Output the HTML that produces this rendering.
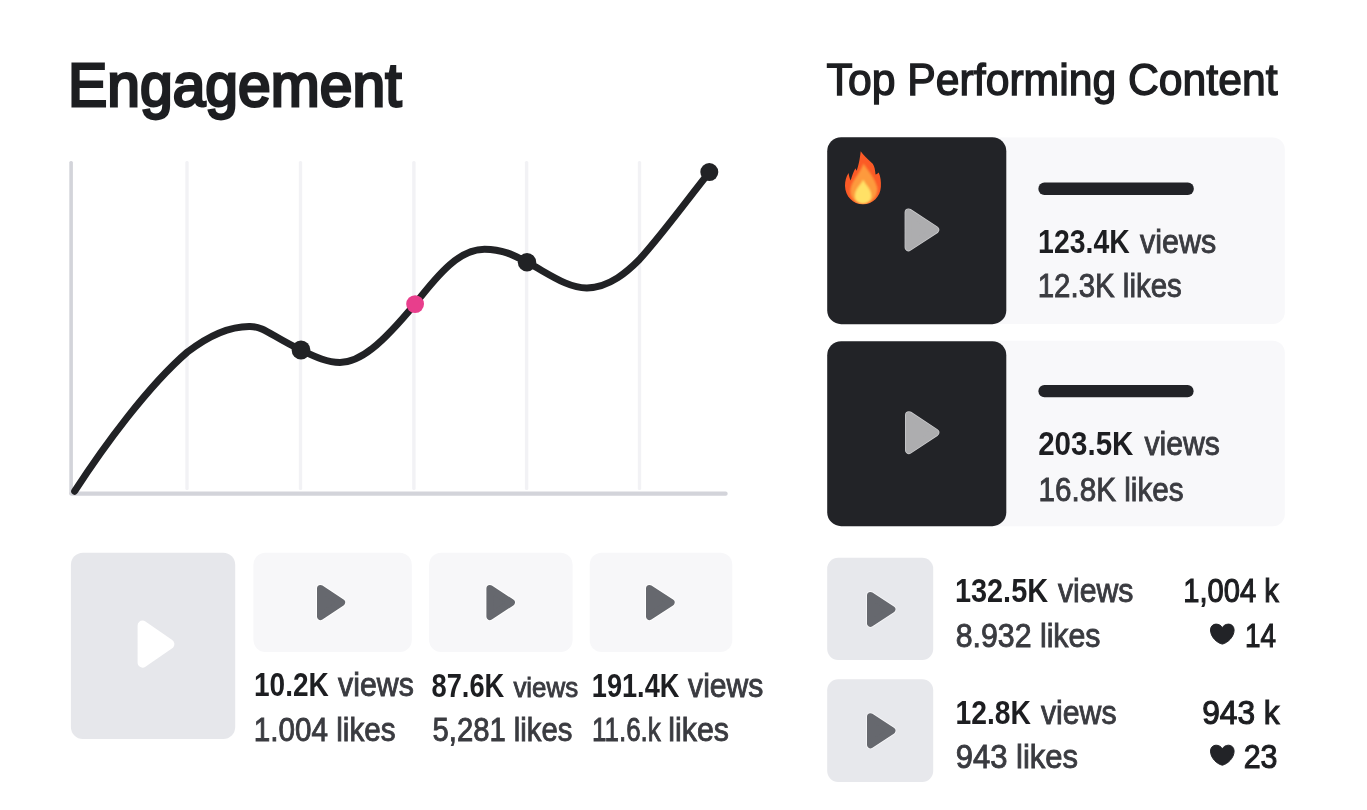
<!DOCTYPE html>
<html lang="en">
<head>
<meta charset="utf-8">
<title>Engagement</title>
<style>
html,body{margin:0;padding:0;background:#fff;}
body{width:1367px;height:810px;overflow:hidden;position:relative;font-family:"Liberation Sans",sans-serif;}
svg{position:absolute;left:0;top:0;display:block}
text{font-family:"Liberation Sans",sans-serif;}
.b{font-weight:700;fill:#1d1e21}
.r{font-weight:400;fill:#3a3b40;stroke:#3a3b40;stroke-width:.9px}
.m{font-weight:400;fill:#1d1e21;stroke:#1d1e21;stroke-width:1.1px}
.t2{font-weight:400;fill:#1d1e21;stroke:#1d1e21;stroke-width:1.4px}
.t1{font-weight:400;fill:#1d1e21;stroke:#1d1e21;stroke-width:2.8px;stroke-linejoin:miter}
</style>
</head>
<body>
<svg width="1367" height="810" viewBox="0 0 1367 810">
<defs>
<clipPath id="fc"><use href="#fo"/></clipPath>
<filter id="fb" x="-20%" y="-20%" width="140%" height="140%"><feGaussianBlur stdDeviation="0.9"/></filter>
</defs>
<!-- CHART -->
<g id="chart">
<rect x="185.3" y="161" width="3.4" height="329" rx="1.5" fill="#f2f2f5"/>
<rect x="298.8" y="161" width="3.4" height="329" rx="1.5" fill="#f2f2f5"/>
<rect x="412.2" y="161" width="3.4" height="329" rx="1.5" fill="#f2f2f5"/>
<rect x="524.9" y="161" width="3.4" height="329" rx="1.5" fill="#f2f2f5"/>
<rect x="637.8" y="161" width="3.4" height="329" rx="1.5" fill="#f2f2f5"/>
<rect x="69.3" y="161" width="3.6" height="334" rx="1.6" fill="#d3d4da"/>
<rect x="69.3" y="491.6" width="658.4" height="4.2" rx="2.1" fill="#d3d4da"/>
<path id="curve" fill="none" stroke="#212225" stroke-width="7" stroke-linecap="round" stroke-linejoin="round"
 d="M74.7 491.2 C104 446 148 386 187.4 352 C216 330 236 326.2 250 326.4 C264 326.5 271 335.6 301 350 C313 355.6 326 362.4 340 362.4 C360 362.4 381 345 415 304 C440 272 460 249.2 484.5 249.2 C505 249.6 515 256 527 262.2 C550 274.5 568 288.2 587 288 C610 287.5 628 271 639.4 259.5 C665 231 690 196 709.4 172.2"/>
<circle cx="301" cy="350" r="9.4" fill="#212225"/>
<circle cx="527" cy="262.2" r="9.2" fill="#212225"/>
<circle cx="709.3" cy="172.1" r="9" fill="#212225"/>
<circle cx="415.1" cy="304.1" r="8.9" fill="#e83e8c"/>
</g>
<!-- TITLES -->
<text x="68" y="106.2" font-size="60.5" class="t1" textLength="333.5" lengthAdjust="spacingAndGlyphs">Engagement</text>
<text x="826.6" y="95" font-size="44.5" class="t2" textLength="451" lengthAdjust="spacingAndGlyphs">Top Performing Content</text>

<!-- TOP CARDS -->
<g id="card1">
<rect x="840" y="137.6" width="444.8" height="186.3" rx="12" fill="#f8f8fa"/>
<rect x="827.2" y="137.2" width="179.1" height="187" rx="14" fill="#222327"/>
<path d="M908.6 212.4 L935.2 229.8 L908.6 247.2 Z" fill="#cdcdcf" stroke="#cdcdcf" stroke-width="8" stroke-linejoin="round"/><path d="M908.6 212.4 L935.2 229.8 L908.6 247.2 Z" fill="#adadaf" stroke="#adadaf" stroke-width="6.6" stroke-linejoin="round"/>
<g id="fire">
<path id="fo" fill="#fb5a26" d="M860.7 151.2 C863 155 867.5 158.5 872.7 163.8 C874.6 166.5 875.2 170.5 875.5 174.4 C876.6 174.2 877.8 173.5 878.7 172.5 C880.6 176.5 881.2 181.5 880.9 186.7 C880.4 196.5 872.8 204.3 863 204.3 C853 204.3 845.3 196.5 845 186 C844.9 181 846.2 176.5 848.6 172.9 C849 175.8 849.6 178.3 850.7 180.4 C852 175.5 853.6 171.5 855.5 168.2 C855.9 169.2 856.2 170 856.6 170.8 C858.4 166 859.8 160 860.7 151.2 Z"/>
<g clip-path="url(#fc)" filter="url(#fb)"><path fill="#fd9a3c" d="M863.4 163.5 C866.5 169 873.5 175 877.3 187.5 C878.3 196.5 871.5 203.9 863 203.9 C855 203.9 849.4 197.5 850.4 189.5 C851.8 180 860.5 173 863.4 163.5 Z"/>
<path fill="#ffe166" d="M863.2 179.5 C864.8 184.5 871.3 188.5 871.3 196 C871.3 200.6 867.6 203.8 863.1 203.8 C858.5 203.8 854.9 200.6 854.9 196 C854.9 188.5 861.5 184.5 863.2 179.5 Z"/></g>
</g>
<rect x="1038.4" y="182.5" width="155.4" height="12.4" rx="6" fill="#222327"/>
</g>
<g id="card2">
<rect x="840" y="340.8" width="444.8" height="185.4" rx="12" fill="#f8f8fa"/>
<rect x="827.2" y="341.2" width="179.1" height="185" rx="14" fill="#222327"/>
<path d="M909.0 415.2 L935.3 432.6 L909.0 450.0 Z" fill="#cdcdcf" stroke="#cdcdcf" stroke-width="8" stroke-linejoin="round"/><path d="M909.0 415.2 L935.3 432.6 L909.0 450.0 Z" fill="#adadaf" stroke="#adadaf" stroke-width="6.6" stroke-linejoin="round"/>
<rect x="1038.4" y="385" width="155.2" height="12.2" rx="6" fill="#222327"/>
</g>
<!-- RIGHT LIST -->
<g id="list">
<rect x="827.2" y="557.8" width="106" height="102.2" rx="11" fill="#e7e8ec"/>
<path d="M870.5 595.4 L891.9 609.4 L870.5 623.4 Z" fill="#f6f6f8" stroke="#f6f6f8" stroke-width="8.8" stroke-linejoin="round"/><path d="M870.5 595.4 L891.9 609.4 L870.5 623.4 Z" fill="#66686e" stroke="#66686e" stroke-width="7.0" stroke-linejoin="round"/>
<rect x="827.2" y="679.2" width="106" height="102.8" rx="11" fill="#e7e8ec"/>
<path d="M870.5 716.8 L891.9 730.8 L870.5 744.8 Z" fill="#f6f6f8" stroke="#f6f6f8" stroke-width="8.8" stroke-linejoin="round"/><path d="M870.5 716.8 L891.9 730.8 L870.5 744.8 Z" fill="#66686e" stroke="#66686e" stroke-width="7.0" stroke-linejoin="round"/>
<path id="heart" transform="translate(1222.3 634.3)" fill="#222327" stroke="#222327" stroke-width="1" stroke-linejoin="round" d="M0 9.8 C-5.5 8.6 -11.8 2.5 -11.8 -4.3 C-11.8 -8 -9.2 -10.2 -6.3 -10.2 C-3.4 -10.2 -1 -8.6 0 -6.6 C1 -8.6 3.4 -10.2 6.3 -10.2 C9.2 -10.2 11.8 -8 11.8 -4.3 C11.8 2.5 5.5 8.6 0 9.8 Z"/>
<use href="#heart" transform="translate(0 121.1)"/>
</g>
<!-- BOTTOM LEFT -->
<g id="bl">
<rect x="70.9" y="552.8" width="164.3" height="186.1" rx="12" fill="#e6e7eb"/>
<path d="M142.6 625.6 L169.4 644.2 L142.6 662.7 Z" fill="#ffffff" stroke="#ffffff" stroke-width="10" stroke-linejoin="round"/>
<rect x="253.4" y="552.8" width="158.4" height="99.1" rx="12" fill="#f7f7f9"/>
<path d="M320.5 588.4 L341.6 602.5 L320.5 616.5 Z" fill="#ffffff" stroke="#ffffff" stroke-width="8.8" stroke-linejoin="round"/><path d="M320.5 588.4 L341.6 602.5 L320.5 616.5 Z" fill="#66686e" stroke="#66686e" stroke-width="7.0" stroke-linejoin="round"/>
<rect x="429.1" y="552.8" width="143.5" height="99.1" rx="12" fill="#f7f7f9"/>
<path d="M489.9 588.4 L511.4 602.5 L489.9 616.5 Z" fill="#ffffff" stroke="#ffffff" stroke-width="8.8" stroke-linejoin="round"/><path d="M489.9 588.4 L511.4 602.5 L489.9 616.5 Z" fill="#66686e" stroke="#66686e" stroke-width="7.0" stroke-linejoin="round"/>
<rect x="589.7" y="552.8" width="142.6" height="99.1" rx="12" fill="#f7f7f9"/>
<path d="M649.5 588.4 L671.1 602.5 L649.5 616.5 Z" fill="#ffffff" stroke="#ffffff" stroke-width="8.8" stroke-linejoin="round"/><path d="M649.5 588.4 L671.1 602.5 L649.5 616.5 Z" fill="#66686e" stroke="#66686e" stroke-width="7.0" stroke-linejoin="round"/>
</g>
<g id="stats">
<text id="s0" x="1038.1" y="252.6" font-size="33" class="b" textLength="91.6" lengthAdjust="spacingAndGlyphs">123.4K</text>
<text id="s1" x="1140.1" y="252.6" font-size="33" class="r" textLength="76.1" lengthAdjust="spacingAndGlyphs">views</text>
<text id="s2" x="1037.7" y="297.4" font-size="33" class="r" textLength="144.1" lengthAdjust="spacingAndGlyphs">12.3K likes</text>
<text id="s3" x="1038.2" y="455.4" font-size="33" class="b" textLength="95.2" lengthAdjust="spacingAndGlyphs">203.5K</text>
<text id="s4" x="1144.5" y="455.4" font-size="33" class="r" textLength="75.4" lengthAdjust="spacingAndGlyphs">views</text>
<text id="s5" x="1038.5" y="500.9" font-size="33" class="r" textLength="145.1" lengthAdjust="spacingAndGlyphs">16.8K likes</text>
<text id="s6" x="954.9" y="601.7" font-size="33" class="b" textLength="93.2" lengthAdjust="spacingAndGlyphs">132.5K</text>
<text id="s7" x="1057.9" y="601.7" font-size="33" class="r" textLength="75.6" lengthAdjust="spacingAndGlyphs">views</text>
<text id="s8" x="955.7" y="646.7" font-size="33" class="r" textLength="144.8" lengthAdjust="spacingAndGlyphs">8.932 likes</text>
<text id="s9" x="955.5" y="724" font-size="33" class="b" textLength="75.4" lengthAdjust="spacingAndGlyphs">12.8K</text>
<text id="s10" x="1040.9" y="724" font-size="33" class="r" textLength="75.7" lengthAdjust="spacingAndGlyphs">views</text>
<text id="s11" x="955.7" y="768.1" font-size="33" class="r" textLength="122.4" lengthAdjust="spacingAndGlyphs">943 likes</text>
<text id="s12" x="1183.3" y="601.8" font-size="33" class="m" textLength="95.6" lengthAdjust="spacingAndGlyphs">1,004 k</text>
<text id="s13" x="1244.9" y="646.7" font-size="33" class="m" textLength="31.0" lengthAdjust="spacingAndGlyphs">14</text>
<text id="s14" x="1202.2" y="723.9" font-size="33" class="m" textLength="77.5" lengthAdjust="spacingAndGlyphs">943 k</text>
<text id="s15" x="1243.7" y="767.9" font-size="33" class="m" textLength="33.8" lengthAdjust="spacingAndGlyphs">23</text>
<text id="s16" x="254.0" y="695.9" font-size="33" class="b" textLength="74.8" lengthAdjust="spacingAndGlyphs">10.2K</text>
<text id="s17" x="338.1" y="695.9" font-size="33" class="r" textLength="75.8" lengthAdjust="spacingAndGlyphs">views</text>
<text id="s18" x="253.8" y="741.1" font-size="33" class="r" textLength="141.8" lengthAdjust="spacingAndGlyphs">1.004 likes</text>
<text id="s19" x="431.5" y="696.8" font-size="33" class="b" textLength="72.8" lengthAdjust="spacingAndGlyphs">87.6K</text>
<text id="s20" x="513.4" y="696.8" font-size="28.5" class="r" textLength="64.8" lengthAdjust="spacingAndGlyphs">views</text>
<text id="s21" x="432.5" y="741.1" font-size="33" class="r" textLength="139.9" lengthAdjust="spacingAndGlyphs">5,281 likes</text>
<text id="s22" x="591.8" y="696.6" font-size="33" class="b" textLength="87.6" lengthAdjust="spacingAndGlyphs">191.4K</text>
<text id="s23" x="688.1" y="696.6" font-size="33" class="r" textLength="75.3" lengthAdjust="spacingAndGlyphs">views</text>
<text id="s24" x="592.0" y="741.1" font-size="33" class="r" textLength="68.8" lengthAdjust="spacingAndGlyphs">11.6.k</text>
<text id="s25" x="668.3" y="741.1" font-size="33" class="r" textLength="60.6" lengthAdjust="spacingAndGlyphs">likes</text>
</g>
</svg>
</body>
</html>
